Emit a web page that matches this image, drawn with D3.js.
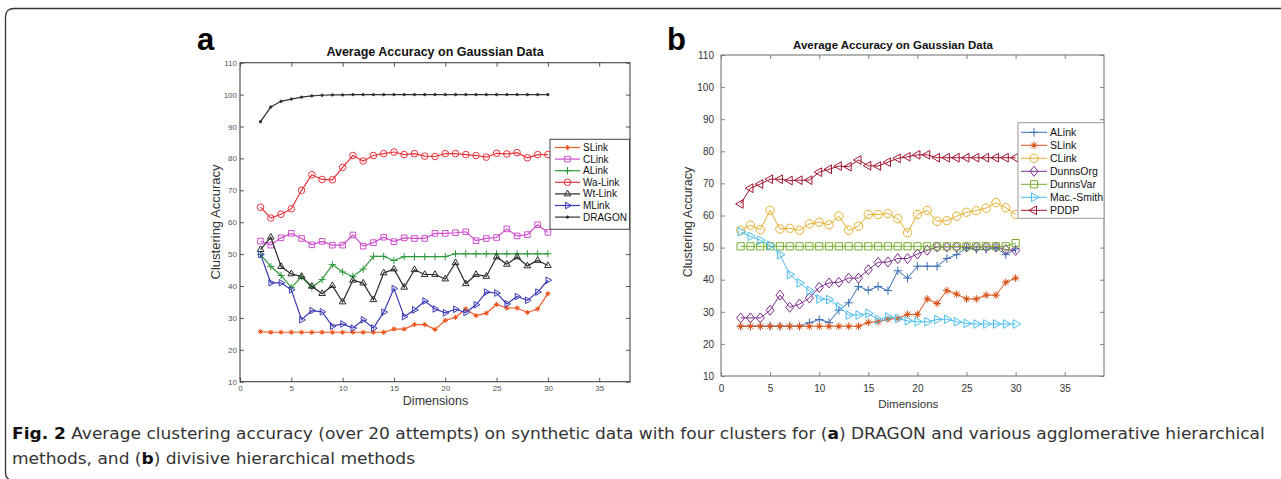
<!DOCTYPE html>
<html>
<head>
<meta charset="utf-8">
<script src="https://cdn.jsdelivr.net/npm/d3@7"></script>
<style>
  body { margin: 0; background: #fff; }
  svg text { font-family: "Liberation Sans", Arial, Helvetica, sans-serif; }
</style>
</head>
<body>
<div id="fig"></div>
<script>
// x values (dimensions) shared by every series
var dims = [2, 3, 4, 5, 6, 7, 8, 9, 10, 11, 12, 13, 14, 15, 16, 17, 18, 19, 20, 21, 22, 23, 24, 25, 26, 27, 28, 29, 30];

var xTicks = [0, 5, 10, 15, 20, 25, 30, 35];
var yTicks = [10, 20, 30, 40, 50, 60, 70, 80, 90, 100, 110];

// panel a: agglomerative methods + DRAGON
var aSLink = [25.7, 25.5, 25.5, 25.5, 25.5, 25.5, 25.5, 25.5, 25.5, 25.5, 25.5, 25.5, 25.5, 26.5, 26.5, 27.9, 27.9, 26.4, 29.2, 30.2, 32.8, 30.7, 31.5, 34.2, 33.1, 33.1, 31.7, 32.8, 37.6];
var aCLink = [54.1, 52.8, 55.1, 56.5, 54.9, 52.9, 54.0, 52.8, 52.8, 56.0, 52.5, 53.6, 55.3, 53.9, 55.1, 54.9, 54.9, 56.5, 56.5, 56.7, 57.0, 54.2, 54.9, 55.2, 57.9, 55.7, 56.1, 59.2, 56.8];
var aALink = [49.9, 46.1, 43.3, 39.5, 42.9, 39.5, 42.0, 46.7, 44.4, 43.0, 45.3, 49.3, 49.3, 48.0, 49.2, 49.2, 49.2, 49.2, 49.2, 50.1, 50.1, 50.1, 50.1, 50.1, 50.1, 50.1, 50.1, 50.1, 50.1];
var aWaLink = [64.7, 61.3, 62.5, 64.2, 70.0, 74.9, 73.4, 73.3, 77.2, 80.9, 79.2, 80.9, 81.5, 82.0, 81.2, 81.5, 80.7, 80.6, 81.5, 81.5, 81.2, 80.9, 80.4, 81.6, 81.4, 81.8, 80.2, 81.2, 81.2];
var aWtLink = [51.4, 55.3, 46.1, 43.8, 43.0, 39.9, 37.6, 40.1, 35.0, 41.8, 40.9, 35.7, 44.1, 45.3, 39.6, 45.1, 43.6, 43.6, 42.2, 47.3, 40.7, 43.6, 43.0, 49.1, 46.8, 49.1, 46.3, 48.0, 46.4];
var aMLink = [49.9, 41.0, 41.0, 38.8, 29.4, 32.3, 31.9, 27.4, 28.1, 26.8, 29.4, 26.8, 31.8, 39.2, 30.4, 32.5, 35.3, 32.8, 31.6, 32.7, 31.7, 34.1, 38.1, 37.8, 34.4, 36.7, 35.5, 38.1, 41.8];
var aDRAGON = [91.5, 96.1, 97.9, 98.6, 99.2, 99.6, 99.8, 99.9, 99.9, 100, 100, 100, 100, 100, 100, 100, 100, 100, 100, 100, 100, 100, 100, 100, 100, 100, 100, 100, 100];

// panel b: divisive methods
var bALink = [25.5, 25.5, 25.5, 25.5, 25.5, 25.5, 25.5, 26.6, 27.6, 26.7, 30.5, 32.8, 37.9, 36.7, 37.9, 36.6, 42.8, 40.5, 44.2, 44.2, 44.2, 46.6, 47.8, 49.9, 49.4, 49.4, 49.9, 47.8, 49.6];
var bSLink = [25.5, 25.5, 25.5, 25.5, 25.5, 25.5, 25.5, 25.5, 25.5, 25.5, 25.5, 25.5, 25.5, 26.7, 26.9, 27.7, 27.9, 29.2, 29.2, 34.0, 32.6, 36.6, 35.5, 34.0, 34.0, 35.2, 35.2, 39.2, 40.5];
var bCLink = [55.4, 57.0, 55.6, 61.6, 55.8, 56.0, 55.4, 57.4, 57.9, 57.1, 59.8, 55.4, 56.7, 60.3, 60.3, 60.6, 59.0, 54.6, 60.3, 61.6, 58.2, 58.4, 59.8, 61.0, 61.5, 62.3, 64.0, 62.4, 60.3];
var bDunnsOrg = [28.1, 28.1, 28.1, 30.5, 35.2, 31.4, 32.4, 34.3, 37.6, 39.0, 39.2, 40.5, 40.5, 43.1, 45.4, 45.5, 46.6, 46.6, 48.0, 49.2, 50.2, 50.2, 50.2, 50.2, 50.2, 50.2, 50.2, 49.4, 49.1];
var bDunnsVar = [50.4, 50.4, 50.4, 50.4, 50.4, 50.4, 50.4, 50.4, 50.4, 50.4, 50.4, 50.4, 50.4, 50.4, 50.4, 50.4, 50.4, 50.4, 50.4, 50.4, 50.4, 50.4, 50.4, 50.4, 50.4, 50.4, 50.4, 50.4, 51.4];
var bMacSmith = [54.9, 53.5, 52.3, 50.7, 47.8, 41.6, 39.0, 36.6, 34.0, 33.8, 31.6, 29.0, 29.0, 29.5, 27.6, 28.4, 27.9, 27.2, 26.9, 26.9, 27.6, 27.7, 26.9, 26.4, 26.2, 26.2, 26.2, 26.2, 26.2];
var bPDDP = [63.6, 68.5, 69.8, 71.3, 71.3, 70.9, 71.0, 71.0, 73.5, 74.4, 75.4, 75.2, 77.3, 75.5, 75.4, 76.6, 77.8, 78.3, 78.9, 78.9, 78.0, 78.0, 78.0, 78.0, 78.0, 78.0, 78.0, 78.0, 78.0];

var aNames = ["SLink", "CLink", "ALink", "Wa-Link", "Wt-Link", "MLink", "DRAGON"];
var bNames = ["ALink", "SLink", "CLink", "DunnsOrg", "DunnsVar", "Mac.-Smith", "PDDP"];

var svg = d3.select("#fig").append("svg")
    .attr("width", 1281)
    .attr("height", 479);

// outer frame: top rule and left rule with rounded corner
svg.append("path")
    .attr("d", "M1281,8.5 H14 Q5.5,8.5 5.5,17 V472 Q5.5,478 9,479")
    .attr("fill", "none")
    .attr("stroke", "#333")
    .attr("stroke-width", 1.3);

// marker shapes, r = half size
function markerPath(type, r) {
    var h = r * 0.87, q = r * 0.5, k = r * 0.7;
    switch (type) {
        case "circle": return d3.symbol(d3.symbolCircle, Math.PI * r * r)();
        case "dot": return d3.symbol(d3.symbolCircle, Math.PI * 1.2 * 1.2)();
        case "square": return "M" + (-r) + "," + (-r) + "H" + r + "V" + r + "H" + (-r) + "Z";
        case "diamond": return "M0," + (-r * 1.25) + "L" + r + ",0L0," + (r * 1.25) + "L" + (-r) + ",0Z";
        case "plus": return "M" + (-r) + ",0H" + r + "M0," + (-r) + "V" + r;
        case "star": return "M" + (-r) + ",0H" + r + "M0," + (-r) + "V" + r +
            "M" + (-k) + "," + (-k) + "L" + k + "," + k + "M" + (-k) + "," + k + "L" + k + "," + (-k);
        case "triUp": return "M0," + (-r) + "L" + h + "," + q + "L" + (-h) + "," + q + "Z";
        case "triRight": return "M" + r + ",0L" + (-q) + "," + (-h) + "L" + (-q) + "," + h + "Z";
        case "triLeft": return "M" + (-r) + ",0L" + q + "," + (-h) + "L" + q + "," + h + "Z";
    }
}

function drawPanel(p) {
    var x = d3.scaleLinear().domain([0, p.xMax]).range([p.left, p.right]);
    var y = d3.scaleLinear().domain([10, 110]).range([p.bottom, p.top]);
    var g = svg.append("g");

    // axes (MATLAB style: inward ticks on all four sides)
    var bottomAxis = g.append("g")
        .attr("transform", `translate(0,${p.bottom})`)
        .call(d3.axisBottom(x).tickValues(xTicks).tickSize(-4).tickPadding(p.xPad));
    var topAxis = g.append("g")
        .attr("transform", `translate(0,${p.top})`)
        .call(d3.axisTop(x).tickValues(xTicks).tickSize(-4).tickFormat(""));
    var leftAxis = g.append("g")
        .attr("transform", `translate(${p.left},0)`)
        .call(d3.axisLeft(y).tickValues(yTicks).tickSize(-4).tickPadding(p.yPad));
    var rightAxis = g.append("g")
        .attr("transform", `translate(${p.right},0)`)
        .call(d3.axisRight(y).tickValues(yTicks).tickSize(-4).tickFormat(""));

    [bottomAxis, topAxis, leftAxis, rightAxis].forEach(function (ax) {
        ax.select(".domain").remove();
        ax.selectAll("line").attr("stroke", p.frameColor).attr("stroke-width", 0.9);
        ax.selectAll("text")
            .attr("fill", p.tickColor)
            .style("font-size", p.tickFont + "px");
    });
    g.append("rect")
        .attr("x", p.left).attr("y", p.top)
        .attr("width", p.right - p.left).attr("height", p.bottom - p.top)
        .attr("fill", "none")
        .attr("stroke", p.frameColor)
        .attr("stroke-width", 1.1);

    // series
    var line = d3.line().x((d, i) => x(dims[i])).y(d => y(d));
    p.series.forEach(function (s) {
        var sg = g.append("g");
        sg.append("path")
            .datum(s.values)
            .attr("d", line)
            .attr("fill", "none")
            .attr("stroke", s.color)
            .attr("stroke-width", p.lineWidth);
        sg.selectAll(".m").data(s.values).enter()
            .append("path")
            .attr("class", "m")
            .attr("transform", (d, i) => `translate(${x(dims[i])},${y(d)})`)
            .attr("d", markerPath(s.marker, s.size || p.markerR))
            .attr("fill", s.fill || "none")
            .attr("stroke", s.color)
            .attr("stroke-width", p.markerStroke);
        if (s.marker === "star" && s.fill) {
            sg.selectAll(".c").data(s.values).enter()
                .append("circle")
                .attr("cx", (d, i) => x(dims[i]))
                .attr("cy", d => y(d))
                .attr("r", 1.6)
                .attr("fill", s.color);
        }
    });

    // legend
    var lg = g.append("g");
    lg.append("rect")
        .attr("x", p.legend.x).attr("y", p.legend.y)
        .attr("width", p.legend.w).attr("height", p.legend.h)
        .attr("fill", "#fff")
        .attr("stroke", p.legend.stroke)
        .attr("stroke-width", 1);
    p.series.forEach(function (s, i) {
        var ly = p.legend.y0 + i * p.legend.step;
        var lx = p.legend.x + p.legend.lineX;
        lg.append("line")
            .attr("x1", lx).attr("x2", lx + p.legend.lineW)
            .attr("y1", ly).attr("y2", ly)
            .attr("stroke", s.color)
            .attr("stroke-width", p.lineWidth);
        lg.append("path")
            .attr("transform", `translate(${lx + p.legend.lineW / 2},${ly})`)
            .attr("d", markerPath(s.marker, s.size || p.markerR))
            .attr("fill", s.fill || "none")
            .attr("stroke", s.color)
            .attr("stroke-width", p.markerStroke);
        if (s.marker === "star" && s.fill) {
            lg.append("circle")
                .attr("cx", lx + p.legend.lineW / 2).attr("cy", ly)
                .attr("r", 1.6).attr("fill", s.color);
        }
        lg.append("text")
            .attr("x", lx + p.legend.lineW + 3)
            .attr("y", ly)
            .attr("dy", "0.35em")
            .style("font-size", p.legend.font + "px")
            .attr("fill", "#111")
            .text(s.name);
    });

    // titles and labels
    g.append("text")
        .attr("x", p.titleX).attr("y", p.titleY)
        .attr("text-anchor", "middle")
        .style("font-size", p.titleFont + "px")
        .style("font-weight", "bold")
        .attr("fill", "#111")
        .text("Average Accuracy on Gaussian Data");
    g.append("text")
        .attr("x", p.xLabelX).attr("y", p.xLabelY)
        .attr("text-anchor", "middle")
        .style("font-size", p.labelFont + "px")
        .attr("fill", "#333")
        .text("Dimensions");
    g.append("text")
        .attr("transform", `translate(${p.yLabelX},${p.yLabelY}) rotate(-90)`)
        .attr("text-anchor", "middle")
        .style("font-size", p.yLabelFont + "px")
        .attr("fill", "#333")
        .text("Clustering Accuracy");
    g.append("text")
        .attr("x", p.tagX).attr("y", p.tagY)
        .style("font-size", "31px")
        .style("font-weight", "bold")
        .attr("fill", "#000")
        .text(p.tag);
}

drawPanel({
    tag: "a", tagX: 197, tagY: 50,
    left: 240, right: 630, top: 62.7, bottom: 381.7, xMax: 38,
    xPad: 3.5, yPad: 3, tickFont: 8, tickColor: "#555", frameColor: "#444",
    lineWidth: 1.2, markerR: 3.2, markerStroke: 1,
    titleX: 435, titleY: 56, titleFont: 12.5,
    xLabelX: 435.5, xLabelY: 404.5, labelFont: 12.5,
    yLabelX: 220, yLabelY: 222, yLabelFont: 13,
    legend: { x: 550, y: 139.3, w: 79.5, h: 90, y0: 147.5, step: 11.6, lineX: 5, lineW: 25, font: 10, stroke: "#444" },
    series: [
        { name: aNames[0], values: aSLink, color: "#ee5a24", marker: "star", fill: "#ee5a24", size: 2.6 },
        { name: aNames[1], values: aCLink, color: "#cc4fcc", marker: "square", size: 2.8 },
        { name: aNames[2], values: aALink, color: "#2e9a3c", marker: "plus", size: 3.6 },
        { name: aNames[3], values: aWaLink, color: "#e8343c", marker: "circle", size: 3.3 },
        { name: aNames[4], values: aWtLink, color: "#2a2a2a", marker: "triUp", size: 3.8 },
        { name: aNames[5], values: aMLink, color: "#3a3ab4", marker: "triRight", size: 3.8 },
        { name: aNames[6], values: aDRAGON, color: "#333", marker: "dot", fill: "#333" }
    ]
});

drawPanel({
    tag: "b", tagX: 667, tagY: 50,
    left: 721, right: 1104, top: 55, bottom: 376, xMax: 39,
    xPad: 9, yPad: 7, tickFont: 10, tickColor: "#333", frameColor: "#777",
    lineWidth: 1, markerR: 4, markerStroke: 1,
    titleX: 893, titleY: 49, titleFont: 11.5,
    xLabelX: 908.3, xLabelY: 407.5, labelFont: 11.5,
    yLabelX: 692, yLabelY: 222, yLabelFont: 12.5,
    legend: { x: 1018, y: 122.7, w: 86, h: 95.6, y0: 132.3, step: 13, lineX: 3, lineW: 26, font: 10.5, stroke: "#999" },
    series: [
        { name: bNames[0], values: bALink, color: "#3a6eb4", marker: "plus", size: 4.2 },
        { name: bNames[1], values: bSLink, color: "#d95319", marker: "star", fill: "#d95319", size: 3.8 },
        { name: bNames[2], values: bCLink, color: "#e6b12e", marker: "circle", size: 4.2 },
        { name: bNames[3], values: bDunnsOrg, color: "#7e2f8e", marker: "diamond", size: 4 },
        { name: bNames[4], values: bDunnsVar, color: "#77ac30", marker: "square", size: 3.6 },
        { name: bNames[5], values: bMacSmith, color: "#4dbeee", marker: "triRight", size: 5 },
        { name: bNames[6], values: bPDDP, color: "#a2142f", marker: "triLeft", size: 5 }
    ]
});

// caption, squeezed horizontally to the column width like the journal layout
var captionFont = "'DejaVu Sans Condensed', 'Liberation Sans Narrow', 'Open Sans', sans-serif";
function captionText(parts) {
    var t = svg.append("text")
        .style("font-family", captionFont)
        .style("font-stretch", "condensed")
        .style("font-size", "16.5px")
        .attr("fill", "#333");
    parts.forEach(function (pt) {
        t.append("tspan")
            .style("font-weight", pt.b ? "bold" : "normal")
            .attr("fill", pt.b ? "#111" : "#333")
            .text(pt.t);
    });
    return t;
}
var cap1 = captionText([
    { t: "Fig. 2", b: true },
    { t: " Average clustering accuracy (over 20 attempts) on synthetic data with four clusters for (" },
    { t: "a", b: true },
    { t: ") DRAGON and various agglomerative hierarchical" }
]);
var sx = 1253 / cap1.node().getComputedTextLength();
cap1.attr("transform", `translate(12,439) scale(${sx},1)`);

var cap2 = captionText([
    { t: "methods, and (" },
    { t: "b", b: true },
    { t: ") divisive hierarchical methods" }
]);
cap2.attr("transform", `translate(12,464) scale(${sx},1)`);
</script>
</body>
</html>
